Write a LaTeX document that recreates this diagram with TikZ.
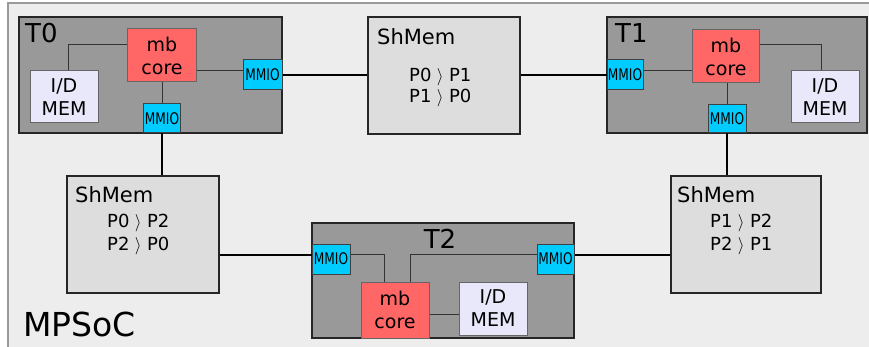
\documentclass[tikz,border=0pt]{standalone}
\usepackage{fontspec}
\setmainfont{DejaVu Sans}
\usetikzlibrary{calc}
\definecolor{outerfill}{HTML}{EDEDED}
\definecolor{outerdraw}{HTML}{9A9A9A}
\definecolor{tfill}{HTML}{999999}
\definecolor{shfill}{HTML}{DDDDDD}
\definecolor{corefill}{HTML}{FF6666}
\definecolor{memfill}{HTML}{E8E8FA}
\definecolor{mmiofill}{HTML}{00CCFF}
\definecolor{darkline}{HTML}{333333}
\tikzset{
  tbox/.style={draw=black!85, line width=1.4pt, fill=tfill, inner sep=0pt},
  shbox/.style={draw=black!85, line width=1.4pt, fill=shfill, inner sep=0pt},
  corebox/.style={draw=black!60, line width=1pt, fill=corefill, inner sep=0pt, align=center, font=\fontsize{19}{23}\selectfont},
  membox/.style={draw=black!60, line width=1pt, fill=memfill, inner sep=0pt, align=center, font=\fontsize{19}{23}\selectfont},
  mmiobox/.style={draw=black!75, line width=1pt, fill=mmiofill, inner sep=0pt, font=\fontsize{16}{18}\selectfont},
  tlabel/.style={inner sep=0pt, anchor=base west, font=\fontsize{26}{30}\selectfont},
  shtitle/.style={inner sep=0pt, anchor=base west, font=\fontsize{21}{25}\selectfont},
  shtext/.style={inner sep=0pt, anchor=base west, font=\fontsize{18}{22}\selectfont},
  inwire/.style={draw=darkline, line width=1pt},
  outwire/.style={draw=black, line width=1.5pt},
}
\newcommand{\mmiotext}{\scalebox{0.76}[1]{MMIO}}
\newcommand{\arr}{\hspace{0.3em}$\rangle$\hspace{0.3em}}
\begin{document}
\begin{tikzpicture}[x=1pt,y=-1pt]
\useasboundingbox (0,0) rectangle (869,347);
% outer frame
\draw[fill=outerfill, draw=outerdraw, line width=1.2pt] (8,3) rectangle (880,360);
\node[inner sep=0pt, anchor=base west, font=\fontsize{33}{38}\selectfont] (mpsoc) at (23,336) {MPSoC};

% T0
\node[tbox, minimum width=263pt, minimum height=116pt] (t0) at (150.5,75) {};
\node[tlabel] (t0l) at (25,43) {T0};
\node[corebox, minimum width=69pt, minimum height=53pt] (core0) at (162,55.5) {mb\\core};
\node[membox, minimum width=68pt, minimum height=52pt] (mem0) at (64,97) {I/D\\MEM};
\node[mmiobox, minimum width=39pt, minimum height=30pt] (m0r) at (262.5,75) {\mmiotext};
\node[mmiobox, minimum width=37pt, minimum height=29pt] (m0b) at (162,118.5) {\mmiotext};

% T1
\node[tbox, minimum width=260pt, minimum height=116pt] (t1) at (737,75) {};
\node[tlabel] (t1l) at (615,43) {T1};
\node[corebox, minimum width=67pt, minimum height=53pt] (core1) at (726,56.5) {mb\\core};
\node[membox, minimum width=68pt, minimum height=52pt] (mem1) at (825,97) {I/D\\MEM};
\node[mmiobox, minimum width=36pt, minimum height=30pt] (m1l) at (625,75) {\mmiotext};
\node[mmiobox, minimum width=38pt, minimum height=28pt] (m1b) at (727,119) {\mmiotext};

% T2
\node[tbox, minimum width=262pt, minimum height=115pt] (t2) at (443,280.5) {};
\node[inner sep=0pt, anchor=base, font=\fontsize{26}{30}\selectfont] (t2l) at (440,248) {T2};
\node[corebox, minimum width=68pt, minimum height=56pt] (core2) at (395,310) {mb\\core};
\node[membox, minimum width=68pt, minimum height=53pt] (mem2) at (493,308.5) {I/D\\MEM};
\node[mmiobox, minimum width=38pt, minimum height=30pt] (m2l) at (331,259) {\mmiotext};
\node[mmiobox, minimum width=37pt, minimum height=30pt] (m2r) at (555.5,259) {\mmiotext};

% ShMem boxes
\node[shbox, minimum width=152pt, minimum height=117pt] (sh01) at (444,75.5) {};
\node[shtitle] (sh01t) at (377,45) {ShMem};
\node[shtext] (sh01a) at (409,82) {P0\arr P1};
\node[shtext] (sh01b) at (409,103) {P1\arr P0};

\node[shbox, minimum width=152pt, minimum height=117pt] (sh02) at (143,234.5) {};
\node[shtitle] (sh02t) at (75,203) {ShMem};
\node[shtext] (sh02a) at (107,228) {P0\arr P2};
\node[shtext] (sh02b) at (107,251) {P2\arr P0};

\node[shbox, minimum width=150pt, minimum height=117pt] (sh12) at (746,234.5) {};
\node[shtitle] (sh12t) at (677,203) {ShMem};
\node[shtext] (sh12a) at (710,228) {P1\arr P2};
\node[shtext] (sh12b) at (710,251) {P2\arr P1};

% inner wires T0
\draw[inwire] ([xshift=4pt]mem0.north) |- ([yshift=10.5pt]core0.west);
\coordinate (c0e) at ([yshift=-15.5pt]core0.east);
\draw[inwire] (c0e) -- (c0e -| m0r.west);
\draw[inwire] (core0.south) -- (m0b.north);
% inner wires T1
\coordinate (c1w) at ([yshift=-14.5pt]core1.west);
\draw[inwire] (c1w) -- (c1w -| m1l.east);
\draw[inwire] ([yshift=11.5pt]core1.east) -| ([xshift=-4pt]mem1.north);
\draw[inwire] (m1b.north |- core1.south) -- (m1b.north);
% inner wires T2
\coordinate (m2le) at ([yshift=5pt]m2l.east);
\draw[inwire] (m2le) -| ([xshift=-11pt]core2.north);
\coordinate (m2rw) at ([yshift=5pt]m2r.west);
\draw[inwire] ([xshift=15pt]core2.north) |- (m2rw);
\coordinate (c2e) at ([yshift=-4pt]core2.east);
\draw[inwire] (c2e) -- (c2e -| mem2.west);

% outer wires
\draw[outwire] (m0r.east) -- (m0r.east -| sh01.west);
\draw[outwire] (m1l.west) -- (m1l.west -| sh01.east);
\draw[outwire] (m0b.south) -- (m0b.south |- sh02.north);
\draw[outwire] (m1b.south) -- (m1b.south |- sh12.north);
\coordinate (m2lw) at ([yshift=4pt]m2l.west);
\draw[outwire] (m2lw) -- (m2lw -| sh02.east);
\coordinate (m2re) at ([yshift=4pt]m2r.east);
\draw[outwire] (m2re) -- (m2re -| sh12.west);
\end{tikzpicture}
\end{document}
